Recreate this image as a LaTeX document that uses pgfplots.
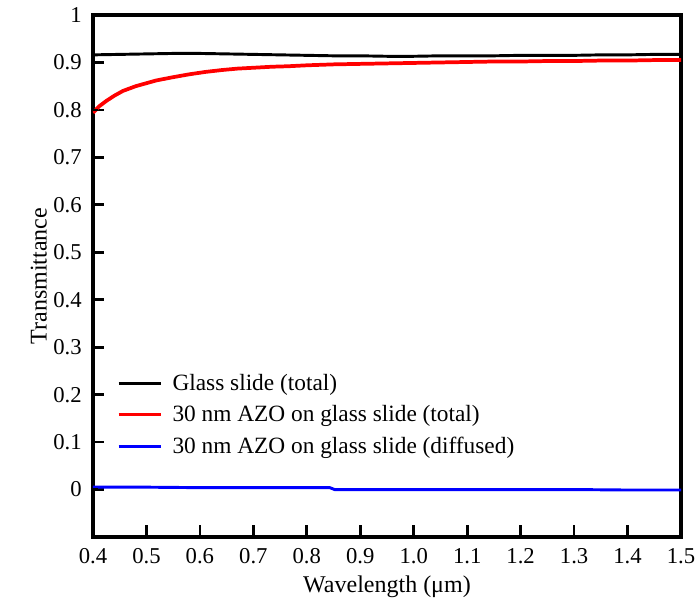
\documentclass[border=0pt]{standalone}
\usepackage{fontspec}
\setmainfont{Liberation Serif}
\usepackage{pgfplots}
\pgfplotsset{compat=1.18}
\begin{document}
\begin{tikzpicture}
\begin{axis}[
  scale only axis,
  width=441pt, height=391.5pt,
  xmin=0.4, xmax=1.5, ymin=-0.1, ymax=1,
  xtick={0.4,0.5,...,1.5},
  ytick={0,0.1,...,1},
  yticklabels={0,0.1,0.2,0.3,0.4,0.5,0.6,0.7,0.8,0.9,1},
  /pgf/number format/assume math mode=true,
  tick align=inside,
  xtick pos=lower, ytick pos=left,
  major tick length=8pt,
  tick style={black, line width=2pt},
  axis line style={line width=2.5pt},
  ticklabel style={font=\fontsize{17}{20}\selectfont},
  xticklabel style={yshift=-5pt,/pgf/number format/fixed,/pgf/number format/fixed zerofill,/pgf/number format/precision=1},
  yticklabel style={xshift=-5pt},
  label style={font=\fontsize{18}{20}\selectfont},
  xlabel={Wavelength (μm)},
  ylabel={Transmittance},
  xlabel style={yshift=-2pt},
  ylabel style={yshift=-2pt},
  legend style={draw=none, fill=none, at={(0.04,0.318)}, anchor=north west,
    font=\fontsize{17.5}{20}\selectfont, row sep=6pt, inner sep=0pt},
  legend cell align=left,
  legend image code/.code={\draw[#1] (0pt,0pt) -- (32pt,0pt); \path (37pt,0pt);},
]
\addplot[black, line width=2.2pt] coordinates {
(0.40,0.916) (0.45,0.917) (0.50,0.918) (0.55,0.919) (0.60,0.919) (0.65,0.918)
(0.70,0.917) (0.75,0.916) (0.80,0.915) (0.85,0.914) (0.90,0.914) (0.95,0.913)
(1.00,0.913) (1.05,0.914) (1.10,0.914) (1.15,0.914) (1.20,0.915) (1.25,0.915)
(1.30,0.915) (1.35,0.916) (1.40,0.916) (1.45,0.917) (1.50,0.917)};
\addlegendentry{Glass slide (total)}
\addplot[red, line width=2.8pt] coordinates {
(0.400,0.794) (0.412,0.808) (0.425,0.819) (0.440,0.830) (0.456,0.840) (0.480,0.850)
(0.518,0.862) (0.550,0.869) (0.580,0.875) (0.610,0.880) (0.641,0.884) (0.670,0.887)
(0.703,0.889) (0.735,0.891) (0.765,0.892) (0.80,0.894) (0.851,0.896) (0.90,0.897)
(0.95,0.898) (1.00,0.899) (1.05,0.900) (1.10,0.901) (1.15,0.902) (1.20,0.902)
(1.25,0.903) (1.30,0.903) (1.35,0.904) (1.40,0.904) (1.45,0.905) (1.50,0.905)};
\addlegendentry{30 nm AZO on glass slide (total)}
\addplot[blue, line width=2.2pt] coordinates {
(0.40,0.005) (0.50,0.005) (0.60,0.004) (0.70,0.004) (0.80,0.004) (0.843,0.004)
(0.852,0.000) (0.90,0.000) (1.00,0.000) (1.10,0.000) (1.20,0.000) (1.30,0.000)
(1.40,-0.001) (1.50,-0.001)};
\addlegendentry{30 nm AZO on glass slide (diffused)}
\end{axis}
\foreach \i in {1,...,10} \draw[line width=2pt] (\i*40.0909pt,0pt) -- ++(0pt,9pt);
\foreach \j in {1,...,10} \draw[line width=2pt] (0pt,\j*35.5909pt) -- ++(4pt,0pt);
\pgfresetboundingbox
\useasboundingbox (-69.75pt,-53.25pt) rectangle (452.25pt,402.75pt);
\end{tikzpicture}
\end{document}
